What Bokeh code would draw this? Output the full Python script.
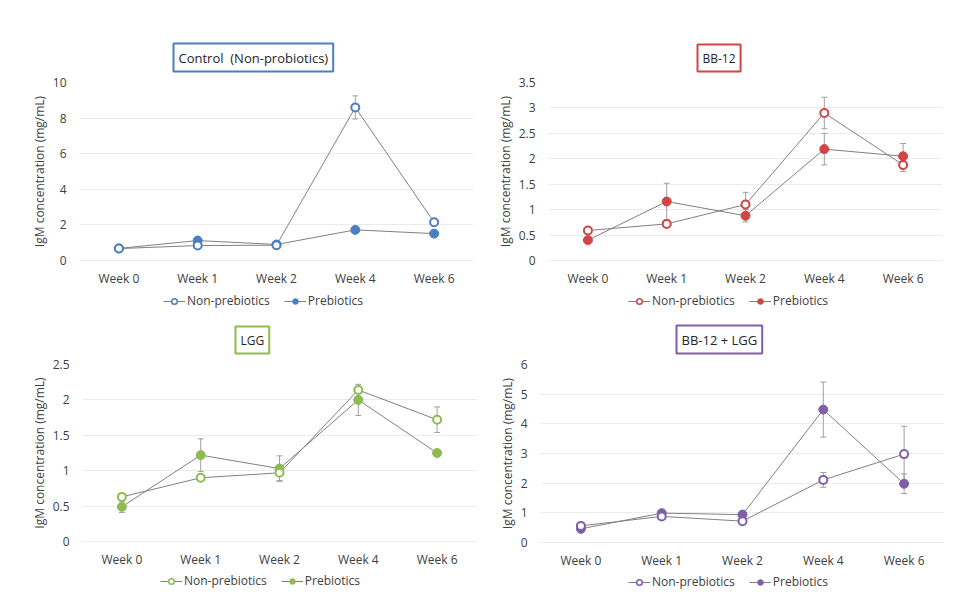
from bokeh.plotting import figure
from bokeh.models import (ColumnDataSource, Whisker, TeeHead, Title, Legend, LegendItem,
                          FixedTicker, NumeralTickFormatter, Range1d)
from bokeh.layouts import column, row
from bokeh.embed import file_html
from bokeh.resources import INLINE

weeks = ["Week 0", "Week 1", "Week 2", "Week 4", "Week 6"]
series_names = ["Non-prebiotics", "Prebiotics"]

ctrl_non = [0.67, 0.84, 0.86, 8.60, 2.15]
ctrl_non_err = [0, 0, 0, 0.65, 0]
ctrl_pre = [0.68, 1.12, 0.90, 1.72, 1.51]
ctrl_pre_err = [0, 0, 0, 0, 0]
ctrl_ticks = [0, 2, 4, 6, 8, 10]

bb_non = [0.59, 0.72, 1.10, 2.90, 1.88]
bb_non_err = [0, 0, 0.24, 0.31, 0.13]
bb_pre = [0.40, 1.16, 0.88, 2.19, 2.05]
bb_pre_err = [0, 0.36, 0.12, 0.31, 0.25]
bb_ticks = [0, 0.5, 1, 1.5, 2, 2.5, 3, 3.5]

lgg_non = [0.63, 0.90, 0.97, 2.14, 1.72]
lgg_non_err = [0, 0, 0.11, 0.05, 0.18]
lgg_pre = [0.49, 1.22, 1.03, 2.00, 1.25]
lgg_pre_err = [0.08, 0.23, 0.18, 0.22, 0]
lgg_ticks = [0, 0.5, 1, 1.5, 2, 2.5]

combo_non = [0.56, 0.88, 0.72, 2.11, 2.98]
combo_non_err = [0, 0, 0, 0.25, 0.94]
combo_pre = [0.46, 0.99, 0.94, 4.48, 1.98]
combo_pre_err = [0, 0, 0, 0.93, 0.33]
combo_ticks = [0, 1, 2, 3, 4, 5, 6]

FONT = "Open Sans"
TXT = "#404040"
LINE = "#808080"
ERR = "#a0a0a0"


def add_err(p, vals, errs):
    xs = [w for w, e in zip(weeks, errs) if e > 0]
    up = [v + e for v, e in zip(vals, errs) if e > 0]
    lo = [v - e for v, e in zip(vals, errs) if e > 0]
    if not xs:
        return
    src = ColumnDataSource(dict(x=xs, u=up, l=lo))
    w = Whisker(base="x", upper="u", lower="l", source=src, line_color=ERR, line_width=1,
                upper_head=TeeHead(size=6, line_color=ERR, line_width=1),
                lower_head=TeeHead(size=6, line_color=ERR, line_width=1))
    p.add_layout(w)


def panel(title, color, non, non_err, pre, pre_err, ticks, lay, tx, tsize, leg_h, leg_pos):
    left, fw, right, top, fh, bottom = lay
    ymax = ticks[-1]
    ttl = Title(text=title, align="left", offset=tx, text_font=FONT, text_font_size=tsize,
                text_font_style="normal", text_color="#262626",
                border_line_color=color, border_line_width=2,
                background_fill_color="white", padding=5, standoff=22)
    p = figure(frame_width=fw, frame_height=fh, x_range=weeks, title=ttl,
               y_range=Range1d(0, ymax), output_backend="svg", toolbar_location=None,
               min_border_left=left, min_border_right=right, min_border_top=top,
               min_border_bottom=bottom)
    p.outline_line_color = None
    p.xgrid.grid_line_color = None
    p.ygrid.grid_line_color = "#ebebeb"
    p.yaxis.ticker = FixedTicker(ticks=ticks)
    p.yaxis.formatter = NumeralTickFormatter(format="0.[0]")
    for ax in (p.xaxis, p.yaxis):
        ax.axis_line_color = None
        ax.major_tick_line_color = None
        ax.minor_tick_line_color = None
        ax.major_label_text_font = FONT
        ax.major_label_text_font_size = "12px"
        ax.major_label_text_color = TXT
    p.xaxis.major_label_standoff = 3
    p.yaxis.major_label_standoff = 7
    p.xaxis.axis_line_color = "#ebebeb"
    p.yaxis.axis_label = "IgM concentration (mg/mL)"
    p.yaxis.axis_label_text_font = FONT
    p.yaxis.axis_label_text_font_size = "12px"
    p.yaxis.axis_label_text_font_style = "normal"
    p.yaxis.axis_label_text_color = TXT
    p.yaxis.axis_label_standoff = 2

    add_err(p, non, non_err)
    add_err(p, pre, pre_err)

    p.line(weeks, non, line_color=LINE, line_width=1)
    p.line(weeks, pre, line_color=LINE, line_width=1)
    p.scatter(weeks, pre, marker="circle", size=9, fill_color=color, line_color=color)
    p.scatter(weeks, non, marker="circle", size=8, fill_color="white",
              line_color=color, line_width=2)

    # legend strip below the chart (its own small canvas, so the legend is not clipped)
    total_w = left + fw + right
    lf = figure(width=total_w, height=leg_h, x_range=Range1d(0, 1), y_range=Range1d(0, 1),
                output_backend="svg", toolbar_location=None, min_border=0,
                x_axis_location=None, y_axis_location=None)
    lf.outline_line_color = None
    lf.grid.grid_line_color = None
    off = [-5]
    a1 = lf.line(off, off, line_color=LINE, line_width=1)
    b1 = lf.scatter(off, off, marker="circle", size=7, fill_color="white",
                    line_color=color, line_width=1.5)
    a2 = lf.line(off, off, line_color=LINE, line_width=1)
    b2 = lf.scatter(off, off, marker="circle", size=7, fill_color=color, line_color=color)
    leg = Legend(items=[LegendItem(label=series_names[0], renderers=[a1, b1]),
                        LegendItem(label=series_names[1], renderers=[a2, b2])],
                 orientation="horizontal", location=leg_pos,
                 border_line_color=None, background_fill_alpha=0,
                 label_text_font=FONT, label_text_font_size="12px",
                 label_text_color=TXT, glyph_width=22, glyph_height=14,
                 spacing=14, padding=0, margin=0, label_standoff=2, label_height=14)
    lf.add_layout(leg, "center")
    return column(p, lf, spacing=0)


g1 = panel("Control\u00a0 (Non-probiotics)", "#4a7fc1", ctrl_non, ctrl_non_err, ctrl_pre,
           ctrl_pre_err, ctrl_ticks, (79, 394, 15, 82, 178, 27), 94, "13px", 23, (84, 3))
g2 = panel("BB-12", "#d24545", bb_non, bb_non_err, bb_pre, bb_pre_err, bb_ticks,
           (60, 394, 26, 82, 178, 27), 149, "12px", 23, (80, 3))
g3 = panel("LGG", "#8dbb4f", lgg_non, lgg_non_err, lgg_pre, lgg_pre_err, lgg_ticks,
           (82, 394, 12, 52, 177, 30), 153, "12px", 28, (78, 10))
g4 = panel("BB-12 + LGG", "#7f60a8", combo_non, combo_non_err, combo_pre, combo_pre_err,
           combo_ticks, (52, 404, 24, 52, 178, 30), 136, "13px", 28, (88, 10))

layout = column(row(g1, g2, spacing=0), row(g3, g4, spacing=0), spacing=0)
open("out.html", "w").write(file_html(layout, INLINE))
